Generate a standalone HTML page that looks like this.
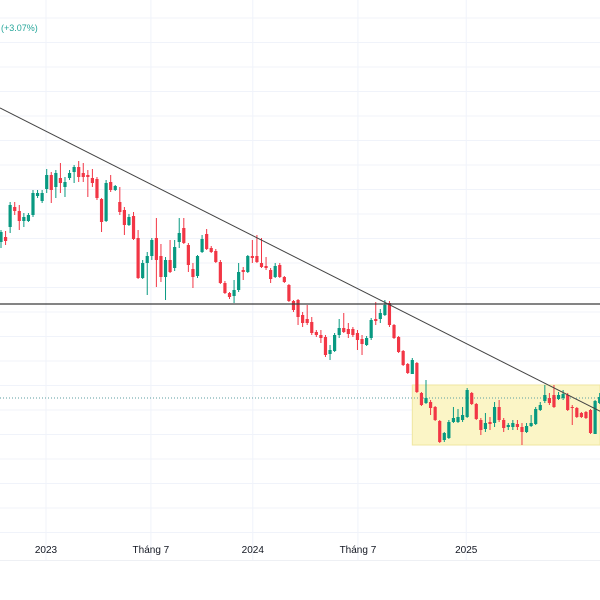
<!DOCTYPE html>
<html><head><meta charset="utf-8"><style>
html,body{margin:0;padding:0;background:#fff;}
svg{display:block;font-family:"Liberation Sans",sans-serif;}
</style></head><body>
<svg id="chart" width="600" height="600" viewBox="0 0 600 600">
<g id="grid"></g>
<g id="marks"></g>
<g id="over"></g>
<g id="axis"></g>
<text x="1" y="31" font-size="9" fill="#26a69a">(+3.07%)</text>
</svg>
<script>
const opens=[358,363,373,393,389,379,379,385,404,399,411,425,413,422,413,422,428,433,427,425,422,421,401,379,418,410,398,390,375,384,362,322,337,344,362,344,323,340,332,358,372,355,331,324,348,366,352,349,338,317,307,304,310,330,328,344,344,337,334,330,323,335,323,315,299,300,285,281,278,268,265,263,246,249,265,272,271,271,267,261,255,262,281,281,285,297,275,263,249,236,226,237,207,197,198,193,179,160,162,178,178,180,183,207,196,180,171,178,177,193,180,173,173,176,173,168,174,176,190,199,202,205,201,202,205,193,192,187,188,190,166,197];
const highs=[370,369,398,398,395,387,387,410,410,410,431,428,430,437,423,430,435,439,437,430,431,423,402,420,425,415,413,393,386,388,370,340,348,362,382,356,343,360,360,382,382,357,337,345,365,371,354,351,340,319,308,320,337,333,345,360,365,362,343,332,337,337,324,316,300,301,288,295,283,270,270,265,255,267,281,287,277,273,270,265,264,282,298,291,300,299,276,264,250,237,242,238,208,220,200,194,180,168,180,193,191,193,212,208,197,182,187,183,198,200,182,177,180,180,177,177,185,193,198,215,207,215,208,210,207,195,193,188,189,191,200,207];
const lows=[352,355,367,385,370,373,378,383,402,397,407,397,402,407,403,420,417,418,418,403,413,400,368,378,408,409,385,365,374,360,321,321,305,340,313,318,300,327,329,352,356,328,312,322,347,350,347,337,316,306,301,297,308,320,327,337,337,332,330,317,322,322,317,298,288,275,273,275,265,263,257,243,240,248,262,267,262,263,250,245,254,260,275,277,284,273,261,247,234,226,226,207,194,196,185,179,157,158,161,177,177,178,182,195,180,165,168,170,173,178,168,170,170,170,155,167,173,175,189,197,195,192,200,200,189,175,182,182,181,166,166,196];
const closes=[368,359,395,389,379,383,385,407,407,407,425,410,427,417,418,427,433,423,423,423,417,402,378,417,410,414,388,375,383,361,322,337,344,360,340,323,340,328,353,367,357,335,323,344,361,351,348,338,317,307,303,310,328,328,344,342,338,333,332,321,334,323,318,299,290,283,277,277,267,265,262,245,250,265,272,268,266,265,260,256,262,280,279,287,295,275,262,248,235,227,240,208,195,202,192,180,158,167,178,182,183,185,210,196,181,170,177,176,193,180,172,175,177,173,168,174,177,191,195,205,197,193,205,206,190,192,183,183,182,167,199,203];
const xTickLabels=["2023","Tháng 7","2024","Tháng 7","2025"];
const xTickIdx=[9.85,32.8,55.1,78.1,101.8];
const supportLevel=[296];
const dottedLevel=[202];
const rangeBox=[90,215,155];   // start index, top price, bottom price
const trendStart=[0,492], trendEnd=[131,189];

const NS="http://www.w3.org/2000/svg";
function xS(i){return 1+i*4.57;}
function yS(p){return 600-p;}
function mk(tag,attrs,parent){const e=document.createElementNS(NS,tag);for(const k in attrs)e.setAttribute(k,attrs[k]);parent.appendChild(e);return e;}
const grid=document.getElementById('grid'),marks=document.getElementById('marks'),over=document.getElementById('over'),axis=document.getElementById('axis');

for(let y=18;y<540;y+=24.5){
  const l=mk('line',{x1:0,x2:600,y1:y,y2:y,stroke:'#f0f3fa','stroke-width':1},grid);
  
  
}
xTickIdx.forEach((t,k)=>{
  const l=mk('line',{x1:xS(t),x2:xS(t),y1:0,y2:560,stroke:'#f0f3fa','stroke-width':1},grid);
  
  
  const tx=mk('text',{x:xS(t),y:553,'font-size':10,'text-anchor':'middle',fill:'#131722'},axis);
  tx.textContent=xTickLabels[k];
  
  
});
const ax=mk('line',{x1:0,x2:600,y1:560.5,y2:560.5,stroke:'#eef0f4'},axis);



const box=mk('rect',{x:xS(rangeBox[0]),y:yS(rangeBox[1]),width:600-xS(rangeBox[0]),height:yS(rangeBox[2])-yS(rangeBox[1]),fill:'#fbf5c6',stroke:'#efe6a0','stroke-width':1},grid);



const dl=mk('line',{x1:0,x2:600,y1:yS(dottedLevel[0]),y2:yS(dottedLevel[0]),stroke:'#5b9ea0','stroke-width':1,'stroke-dasharray':'1,2'},grid);



opens.forEach((o,i)=>{
  const c=closes[i],up=c>=o,col=up?'#089981':'#f23645',x=xS(i);
  const g=mk('g',{},marks);
  
  
  mk('line',{x1:x,x2:x,y1:yS(highs[i]),y2:yS(lows[i]),stroke:col,'stroke-width':1},g);
  const top=yS(Math.max(o,c)),h=Math.max(1,Math.abs(o-c));
  mk('rect',{x:x-1.6,y:top,width:3.2,height:h,fill:col},g);
});

const sl=mk('line',{x1:0,x2:600,y1:yS(supportLevel[0]),y2:yS(supportLevel[0]),stroke:'#3a3a3a','stroke-width':1.2},over);


const tl=mk('line',{x1:xS(trendStart[0])-1,y1:yS(trendStart[1]),x2:xS(trendEnd[0])+6,y2:yS(trendEnd[1])+3,stroke:'#444','stroke-width':1},over);


</script>
</body></html>
